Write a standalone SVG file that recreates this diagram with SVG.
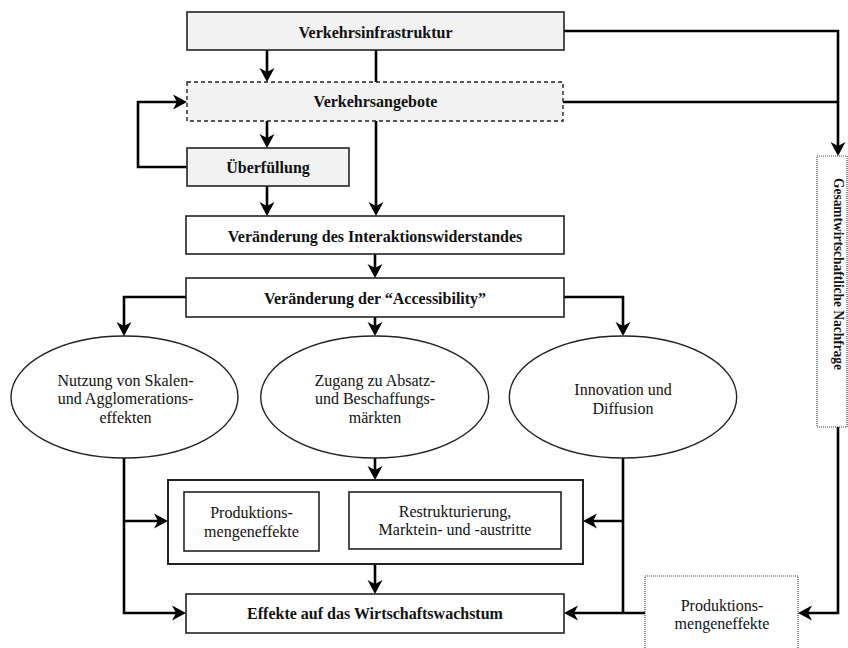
<svg xmlns="http://www.w3.org/2000/svg" width="848" height="648" viewBox="0 0 848 648" font-family="'Liberation Serif', 'DejaVu Serif', serif">
<style>
text{font-family:'Liberation Serif','DejaVu Serif',serif;font-size:16px;fill:#111;text-anchor:middle}
.b{font-weight:bold}
.box{fill:#fff;stroke:#222;stroke-width:1.6}
.grey{fill:#f2f2f2;stroke:#222;stroke-width:1.6}
.dash{fill:#f2f2f2;stroke:#222;stroke-width:1.4;stroke-dasharray:4 3}
.dot{fill:#fff;stroke:#444;stroke-width:1.2;stroke-dasharray:1 1}
.ell{fill:#fff;stroke:#222;stroke-width:1.4}
.c{fill:none;stroke:#000;stroke-width:2.6}
.a{marker-end:url(#ah)}
</style>
<defs>
<marker id="ah" markerUnits="userSpaceOnUse" viewBox="-15 -10 20 20" markerWidth="20" markerHeight="20" refX="0" refY="0" orient="auto" overflow="visible">
<path d="M3,0 L-11,-7.5 L-7,0 L-11,7.5 Z" fill="#000"/>
</marker>
</defs>
<g id="connectors">
<path class="c a" d="M267,50 V79"/>
<path class="c" d="M376,50 V82"/>
<path class="c a" d="M376,121 V213"/>
<path class="c a" d="M267,121 V145"/>
<path class="c a" d="M187,167 H138 V102 H184"/>
<path class="c a" d="M267,186 V213"/>
<path class="c a" d="M375,254 V275"/>
<path class="c a" d="M186,297 H124 V333"/>
<path class="c a" d="M375,317 V333"/>
<path class="c a" d="M564,297 H623 V333"/>
<path class="c a" d="M124,458 V613 H183"/>
<path class="c a" d="M124,521 H165"/>
<path class="c a" d="M375,457 V477"/>
<path class="c" d="M623,458 V613"/>
<path class="c a" d="M623,521 H586"/>
<path class="c a" d="M645,613 H567"/>
<path class="c a" d="M375,563 V591"/>
<path class="c a" d="M564,31 H838 V153"/>
<path class="c" d="M563,102 H838"/>
<path class="c a" d="M838,427 V613 H801"/>
</g>
<g id="verkehrsinfrastruktur">
<rect class="grey" x="187" y="12" width="377" height="38"/>
<text class="b" x="375.5" y="38">Verkehrsinfrastruktur</text>
</g>
<g id="verkehrsangebote">
<rect class="dash" x="187" y="82" width="376" height="39"/>
<text class="b" x="375.5" y="107">Verkehrsangebote</text>
</g>
<g id="ueberfuellung">
<rect class="grey" x="187" y="148" width="162" height="38"/>
<text class="b" x="268" y="173">Überfüllung</text>
</g>
<g id="interaktionswiderstand">
<rect class="box" x="186" y="216" width="378" height="38"/>
<text class="b" x="375" y="241.5">Veränderung des Interaktionswiderstandes</text>
</g>
<g id="accessibility">
<rect class="box" x="186" y="278" width="378" height="39"/>
<text class="b" x="375" y="303.5">Veränderung der “Accessibility”</text>
</g>
<g id="skalen">
<ellipse class="ell" cx="124.5" cy="397" rx="113.5" ry="61"/>
<text x="125.5" y="385.5">Nutzung von Skalen-</text>
<text x="125.5" y="404">und Agglomerations-</text>
<text x="125.5" y="423">effekten</text>
</g>
<g id="absatz">
<ellipse class="ell" cx="374.7" cy="397" rx="114" ry="61"/>
<text x="375" y="385.5">Zugang zu Absatz-</text>
<text x="375" y="404">und Beschaffungs-</text>
<text x="375" y="423">märkten</text>
</g>
<g id="innovation">
<ellipse class="ell" cx="623" cy="397" rx="113.7" ry="61"/>
<text x="623" y="395">Innovation und</text>
<text x="623" y="414">Diffusion</text>
</g>
<g id="effektgruppe">
<rect class="box" x="168" y="480" width="415" height="84" style="stroke-width:2"/>
<g id="produktion">
<rect class="box" x="184" y="492" width="135" height="59"/>
<text x="251.5" y="518">Produktions-</text>
<text x="251.5" y="537">mengeneffekte</text>
</g>
<g id="restrukturierung">
<rect class="box" x="349" y="492" width="212" height="57"/>
<text x="455" y="517">Restrukturierung,</text>
<text x="455" y="535">Marktein- und -austritte</text>
</g>
</g>
<g id="wachstum">
<rect class="box" x="186" y="594" width="378" height="39"/>
<text class="b" x="375" y="619">Effekte auf das Wirtschaftswachstum</text>
</g>
<g id="nachfrage">
<rect class="dot" x="817" y="156" width="30" height="271"/>
<text class="b" transform="translate(834,274) rotate(90)" x="0" y="0" style="font-size:14px" textLength="192" lengthAdjust="spacingAndGlyphs">Gesamtwirtschaftliche Nachfrage</text>
</g>
<g id="produktion2">
<rect class="dot" x="645" y="576" width="153" height="90"/>
<text x="722" y="610.5">Produktions-</text>
<text x="722" y="628.5">mengeneffekte</text>
</g>
</svg>
